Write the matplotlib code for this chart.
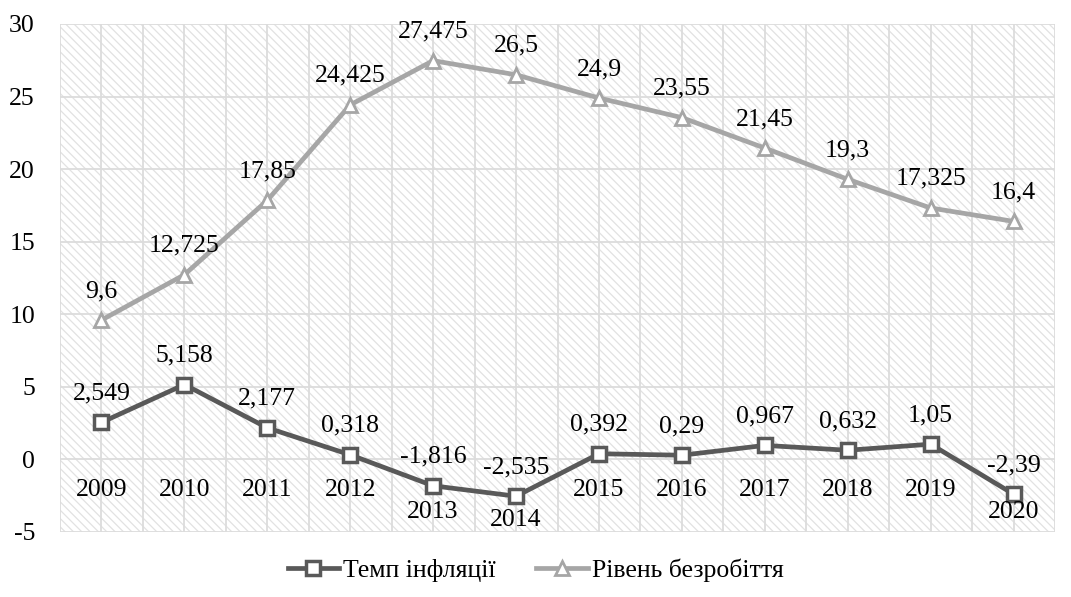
import matplotlib
matplotlib.use("Agg")
import matplotlib.pyplot as plt
from matplotlib.font_manager import FontProperties
import numpy as np

years = ["2009", "2010", "2011", "2012", "2013", "2014", "2015", "2016", "2017", "2018", "2019", "2020"]
inflation = [2.549, 5.158, 2.177, 0.318, -1.816, -2.535, 0.392, 0.29, 0.967, 0.632, 1.05, -2.39]
unemployment = [9.6, 12.725, 17.85, 24.425, 27.475, 26.5, 24.9, 23.55, 21.45, 19.3, 17.325, 16.4]
inflation_labels = ["2,549", "5,158", "2,177", "0,318", "-1,816", "-2,535", "0,392", "0,29", "0,967", "0,632", "1,05", "-2,39"]
unemployment_labels = ["9,6", "12,725", "17,85", "24,425", "27,475", "26,5", "24,9", "23,55", "21,45", "19,3", "17,325", "16,4"]
yticks = [-5, 0, 5, 10, 15, 20, 25, 30]

FS = 18.5
plt.rcParams['font.family'] = 'serif'
plt.rcParams['font.serif'] = ['Liberation Serif']
plt.rcParams['hatch.color'] = '#E2E2E2'
plt.rcParams['hatch.linewidth'] = 0.9
fp = FontProperties(family='Liberation Serif', size=FS)

fig = plt.figure(figsize=(10.71, 5.97), dpi=100)
ax = fig.add_axes([60/1071, 1-532/597, 995/1071, (532-24)/597])

x = np.arange(len(years))
ax.set_xlim(-0.5, len(years) - 0.5)
ax.set_ylim(-5, 30)

# hatched background
ax.patch.set_facecolor('white')
ax.fill_between([-0.5, len(years) - 0.5], -5, 30, facecolor='white', edgecolor='#E2E2E2',
                hatch='\\\\\\\\', linewidth=0, zorder=0)

# grid
for v in np.arange(-0.5, len(years), 0.5):
    ax.axvline(v, color='#DCDCDC', lw=1.3, zorder=1)
for t in yticks:
    ax.axhline(t, color='#DCDCDC', lw=1.3, zorder=1)

for s in ax.spines.values():
    s.set_visible(False)

ax.set_yticks(yticks)
ax.set_yticklabels([str(t) for t in yticks], fontproperties=fp)
ax.tick_params(axis='y', length=0, pad=18)
ax.set_xticks([])

l1, = ax.plot(x, inflation, color='#595959', lw=3.4, marker='s', markersize=10,
              markerfacecolor='white', markeredgecolor='#595959', markeredgewidth=2.5,
              zorder=3, label='Темп інфляції')
l2, = ax.plot(x, unemployment, color='#A6A6A6', lw=3.4, marker='^', markersize=10,
              markerfacecolor='white', markeredgecolor='#A6A6A6', markeredgewidth=2.0,
              zorder=3, label='Рівень безробіття')

for xi, v, lab in zip(x, inflation, inflation_labels):
    ax.annotate(lab, (xi, v), xytext=(0, 13), textcoords='offset points',
                ha='center', va='bottom', fontproperties=fp, zorder=4)
for xi, v, lab in zip(x, unemployment, unemployment_labels):
    ax.annotate(lab, (xi, v), xytext=(0, 13), textcoords='offset points',
                ha='center', va='bottom', fontproperties=fp, zorder=4)

# category labels along the zero axis
low = {"2013": -3.65, "2014": -4.15, "2020": -3.65}
for xi, yr in zip(x, years):
    ax.text(xi, low.get(yr, -2.1), yr, ha='center', va='center', fontproperties=fp, zorder=4)

leg = fig.legend(handles=[l1, l2], loc='center', bbox_to_anchor=(0.5, 1 - 570/597),
                 ncol=2, frameon=False, prop=fp,
                 handlelength=2.0, columnspacing=1.6, handletextpad=0.15)

fig.savefig('out.png', dpi=100)
